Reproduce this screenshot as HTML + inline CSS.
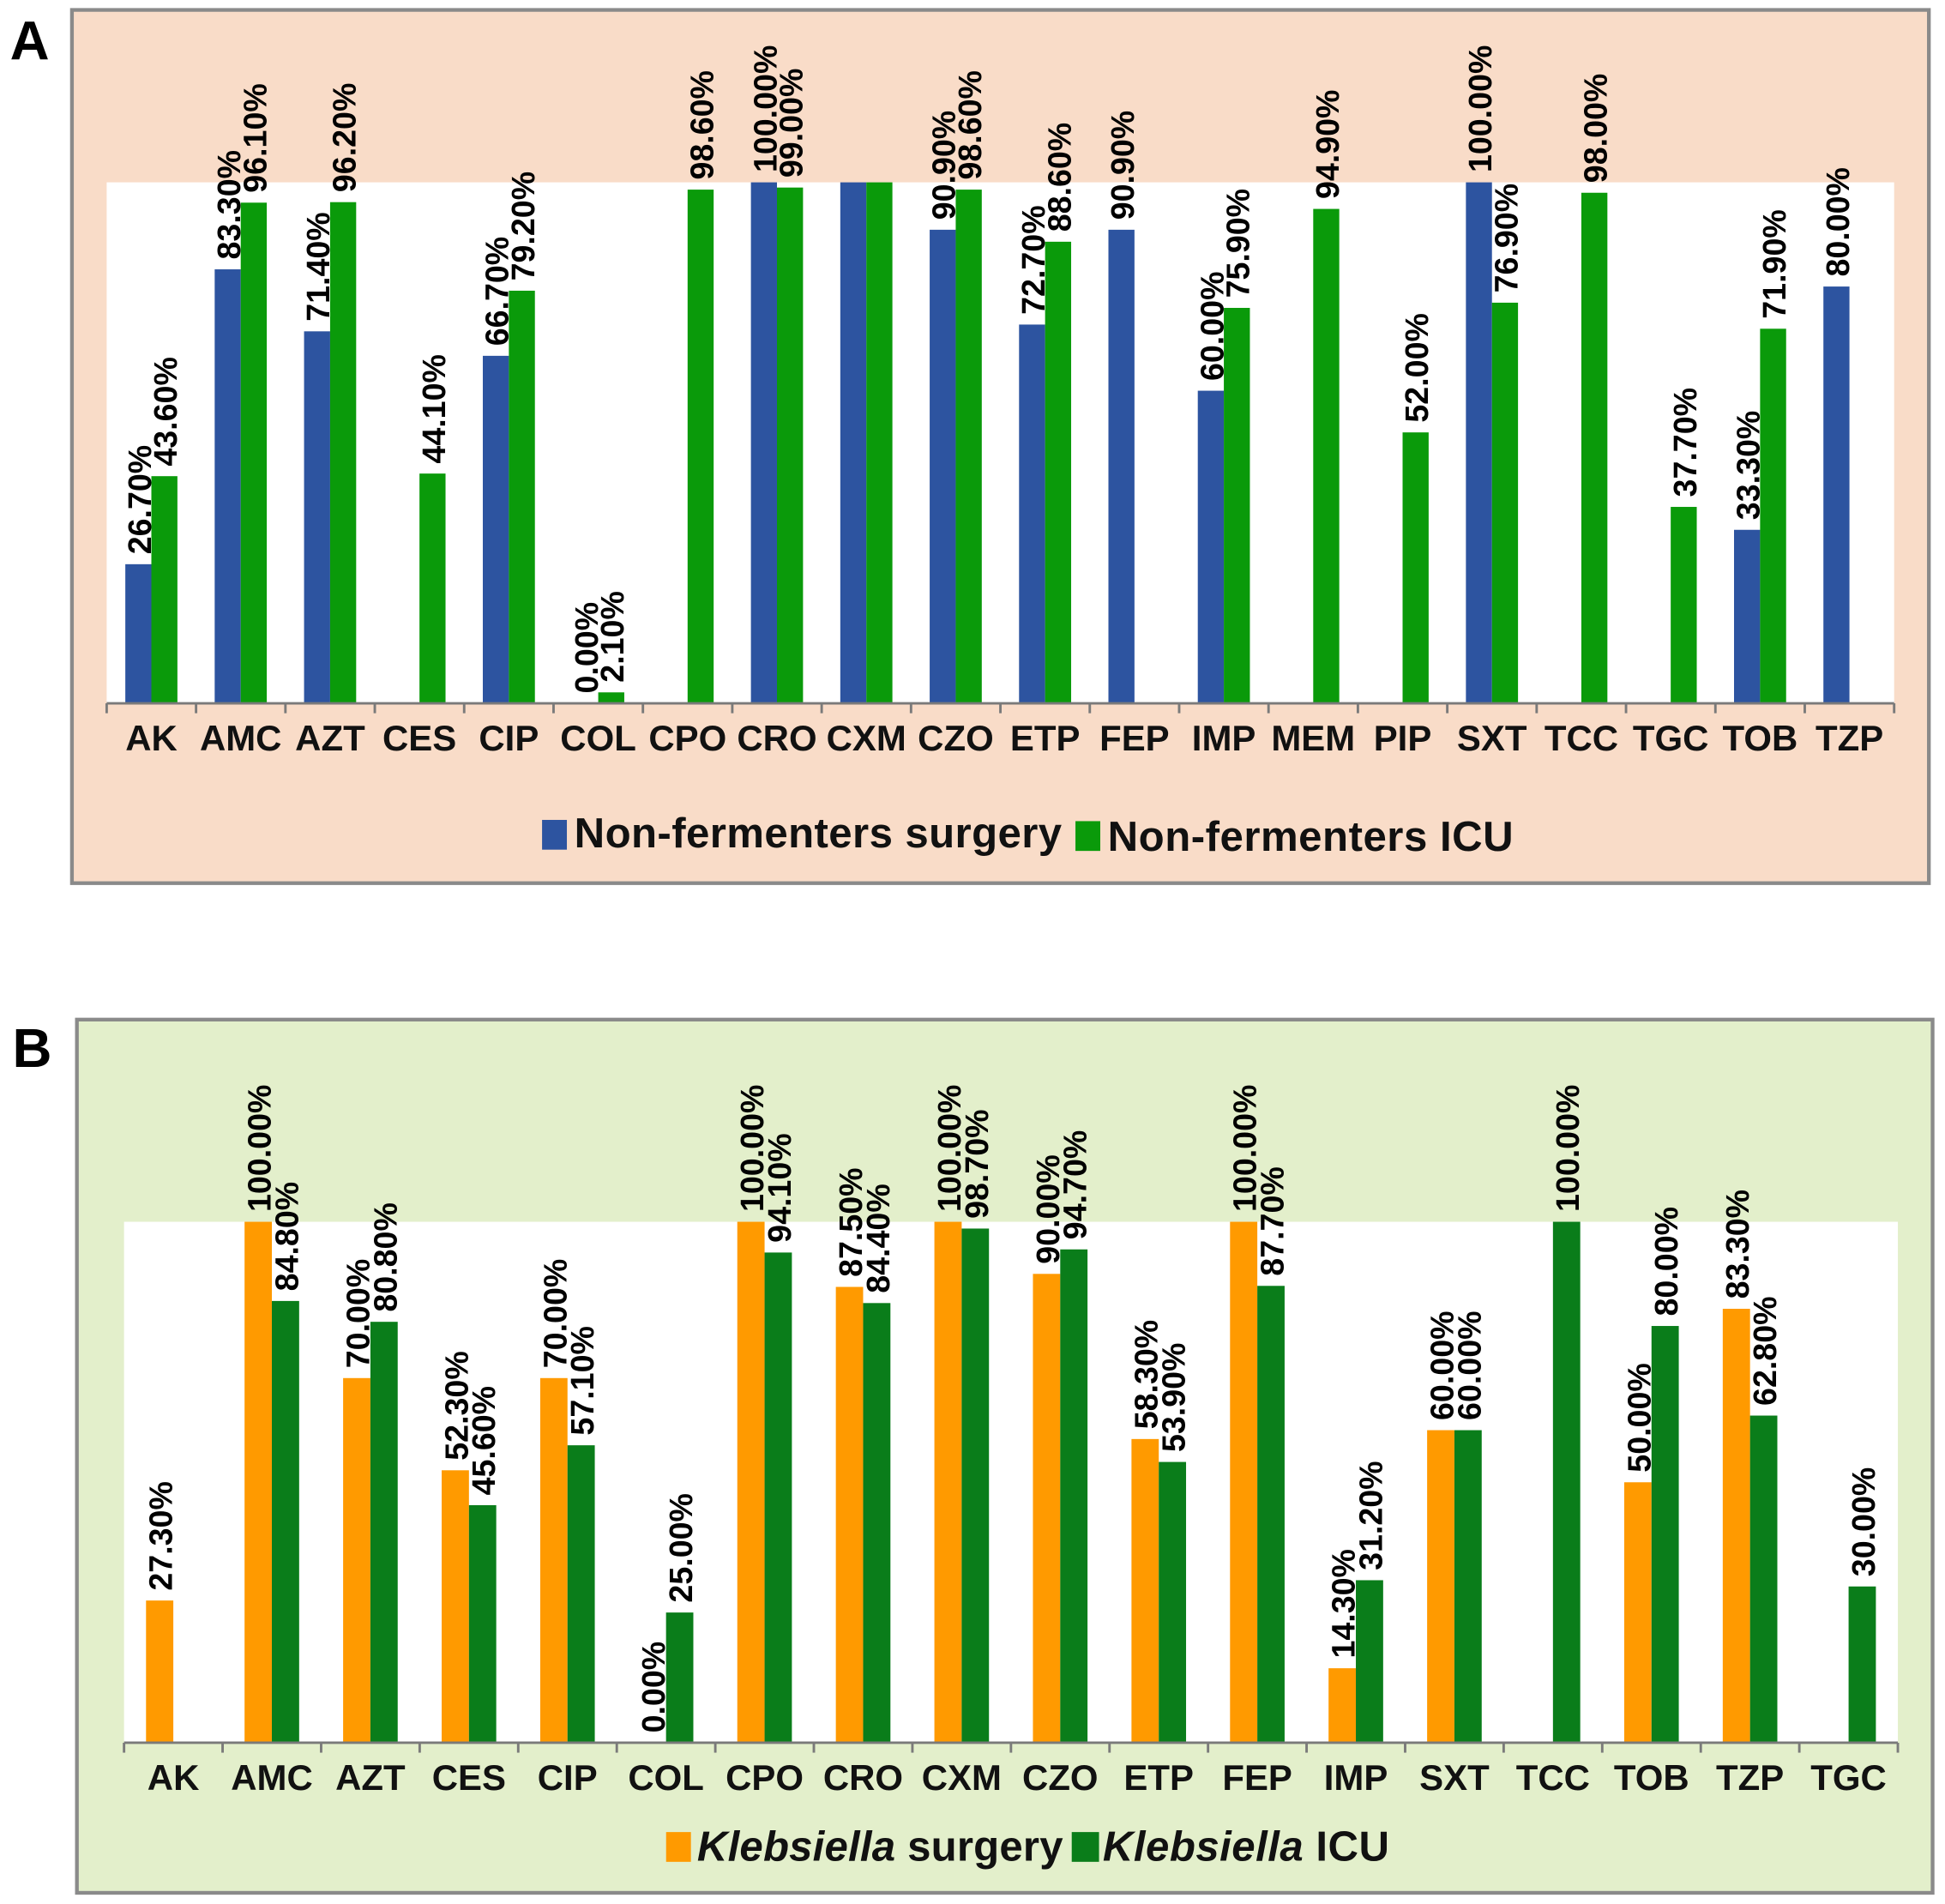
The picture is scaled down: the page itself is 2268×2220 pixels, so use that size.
<!DOCTYPE html>
<html><head><meta charset="utf-8"><style>
html,body{margin:0;padding:0;background:#fff;}
svg{display:block;font-family:"Liberation Sans",Arial,sans-serif;font-weight:bold;}
</style></head><body>
<svg id="chart" width="2268" height="2220" viewBox="0 0 1568 1535" preserveAspectRatio="none" xmlns="http://www.w3.org/2000/svg">
</svg>
<script>
const catsA = ["AK","AMC","AZT","CES","CIP","COL","CPO","CRO","CXM","CZO","ETP","FEP","IMP","MEM","PIP","SXT","TCC","TGC","TOB","TZP"];
const surgA = [26.7,83.3,71.4,null,66.7,0,null,100,100,90.9,72.7,90.9,60,null,null,100,null,null,33.3,80];
const icuA  = [43.6,96.1,96.2,44.1,79.2,2.1,98.6,99,100,98.6,88.6,null,75.9,94.9,52,76.9,98,37.7,71.9,null];
const showLblA_s = [1,1,1,0,1,1,0,1,0,1,1,1,1,0,0,1,0,0,1,1];
const showLblA_i = [1,1,1,1,1,1,1,1,0,1,1,0,1,1,1,1,1,1,1,0];
const catsB = ["AK","AMC","AZT","CES","CIP","COL","CPO","CRO","CXM","CZO","ETP","FEP","IMP","SXT","TCC","TOB","TZP","TGC"];
const surgB = [27.3,100,70,52.3,70,0,100,87.5,100,90,58.3,100,14.3,60,null,50,83.3,null];
const icuB  = [null,84.8,80.8,45.6,57.1,25,94.1,84.4,98.7,94.7,53.9,87.7,31.2,60,100,80,62.8,30];

const NS="http://www.w3.org/2000/svg";
const svg=document.getElementById('chart');
function mk(tag,attrs,parent){const e=document.createElementNS(NS,tag);for(const k in attrs)e.setAttribute(k,attrs[k]);(parent||svg).appendChild(e);return e;}

function panel(cfg){
  const g=mk('g',{});
  
  
  const bg=mk('rect',{x:cfg.box[0],y:cfg.box[1],width:cfg.box[2],height:cfg.box[3],fill:cfg.bg,stroke:'#8a8a8a','stroke-width':3},g);
  
  
  const [px,py,pw,ph]=cfg.plot;
  const pa=mk('rect',{x:px,y:py,width:pw,height:ph,fill:'#fff'},g);
  
  
  const letter=mk('text',{x:cfg.letter[0],y:cfg.letter[1],'font-size':44,fill:'#000'},g);
  letter.textContent=cfg.letterText;
  
  
  const n=cfg.cats.length, step=pw/n, base=py+ph;
  const yS=v=>base-v/100*ph;
  const xC=i=>px+step*(i+0.5);
  const bw=cfg.bw;
  const series=[[cfg.s1,cfg.c1,-1,cfg.l1],[cfg.s2,cfg.c2,0,cfg.l2]];
  series.forEach(([vals,col,off,show],si)=>{
    vals.forEach((v,i)=>{
      if(v===null) return;
      const x=xC(i)+off*bw;
      const r=mk('rect',{x:x,y:yS(v),width:bw,height:base-yS(v),fill:col},g);
      
      
      if(show && !show[i]) return;
      const cx=x+bw/2+10, ty=yS(v)-8;
      const t=mk('text',{x:cx,y:ty,'font-size':26,fill:'#000',transform:`rotate(-90 ${cx} ${ty})`},g);
      t.textContent=v.toFixed(2)+'%';
      
      
    });
  });
  const ax=mk('line',{x1:px,y1:base,x2:px+pw,y2:base,stroke:'#7a7a7a','stroke-width':2},g);
  
  
  for(let i=0;i<=n;i++){
    const tk=mk('line',{x1:px+step*i,y1:base,x2:px+step*i,y2:base+8,stroke:'#7a7a7a','stroke-width':2},g);
    
    
  }
  cfg.cats.forEach((c,i)=>{
    const t=mk('text',{x:xC(i),y:base+38,'font-size':29,'text-anchor':'middle',fill:'#111'},g);
    t.textContent=c;
    
    
  });
  return g;
}

panel({name:'panel-a',box:[58,8,1497,704],bg:'#f9dcc8',plot:[86,147,1441,420],letter:[8,48],letterText:'A',
  cats:catsA,s1:surgA,s2:icuA,c1:'#2d54a0',c2:'#0a9a0a',l1:showLblA_s,l2:showLblA_i,bw:21});
panel({name:'panel-b',box:[62,822,1496,704],bg:'#e3efcb',plot:[100,985,1430,420],letter:[10,860],letterText:'B',
  cats:catsB,s1:surgB,s2:icuB,c1:'#ff9a00',c2:'#0a7d1a',l1:null,l2:null,bw:22});
</script>
<svg style="position:absolute;left:0;top:0" width="2268" height="2220" viewBox="0 0 1568 1535" preserveAspectRatio="none" xmlns="http://www.w3.org/2000/svg" font-family="Liberation Sans, Arial, sans-serif" font-weight="bold">
  <g>
    <rect x="437" y="661" width="20" height="24" fill="#2d54a0"/>
    <text x="463" y="683" font-size="34" fill="#111" textLength="393">Non-fermenters surgery</text>
    <rect x="867" y="662" width="20" height="24" fill="#0a9a0a"/>
    <text x="893" y="686" font-size="34" fill="#111" textLength="327">Non-fermenters ICU</text>
  </g>
  <g>
    <rect x="537" y="1477" width="20" height="24" fill="#ff9a00"/>
    <text x="562" y="1500" font-size="34" fill="#111" textLength="295"><tspan font-style="italic">Klebsiella</tspan> surgery</text>
    <rect x="864" y="1477" width="22" height="24" fill="#0a7d1a"/>
    <text x="889" y="1500" font-size="34" fill="#111" textLength="231"><tspan font-style="italic">Klebsiella</tspan> ICU</text>
  </g>
</svg>
</body></html>
